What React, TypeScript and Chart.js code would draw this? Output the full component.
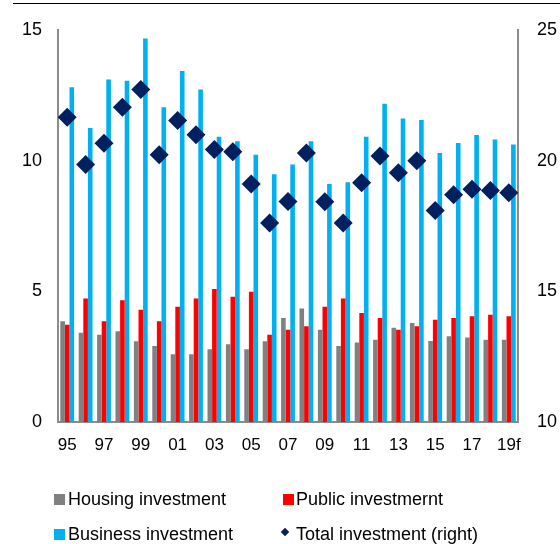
import React, { useEffect, useRef } from "react";
import { Chart, registerables } from "chart.js";

Chart.register(...registerables);

const categories = ["95","96","97","98","99","00","01","02","03","04","05","06","07","08","09","10","11","12","13","14","15","16","17","18","19f"];
const housing = [3.85,3.41,3.34,3.47,3.09,2.91,2.59,2.59,2.78,2.97,2.78,3.09,3.98,4.34,3.53,2.91,3.04,3.15,3.6,3.79,3.1,3.28,3.23,3.15,3.15];
const publicInv = [3.72,4.72,3.85,4.66,4.29,3.85,4.41,4.72,5.09,4.79,4.98,3.34,3.53,3.66,4.41,4.72,4.17,3.98,3.53,3.66,3.91,3.98,4.04,4.1,4.04];
const business = [12.8,11.24,13.1,13.05,14.67,12.04,13.42,12.72,10.91,10.74,10.22,9.48,9.85,10.74,9.1,9.17,10.91,12.17,11.61,11.55,10.29,10.67,10.98,10.8,10.61];
const total = [21.66,19.85,20.66,22.04,22.72,20.22,21.53,20.99,20.42,20.34,19.1,17.61,18.43,20.29,18.42,17.61,19.15,20.17,19.53,19.99,18.09,18.69,18.9,18.85,18.77];

const FONT = "'Liberation Sans', Arial, sans-serif";
const GREY = "#808080";
const RED = "#ff0000";
const BLUE = "#00b0f0";
const NAVY = "#002060";
const AXIS = "#8c8c8c";

export default function App() {
  const ref = useRef<HTMLCanvasElement | null>(null);
  useEffect(() => {
    if (!ref.current) return;
    const chart = new Chart(ref.current, {
      type: "bar",
      data: {
        labels: categories,
        datasets: [
          { type: "line", label: "Total investment (right)", data: total, yAxisID: "y1", showLine: false, pointStyle: "rectRot", pointRadius: 9.5, pointBackgroundColor: NAVY, pointBorderColor: NAVY, pointBorderWidth: 0, order: 0 } as any,
          { label: "Housing investment", data: housing, backgroundColor: GREY, yAxisID: "y", order: 1 },
          { label: "Public investmernt", data: publicInv, backgroundColor: RED, yAxisID: "y", order: 1 },
          { label: "Business investment", data: business, backgroundColor: BLUE, yAxisID: "y", order: 1 },
        ],
      },
      options: {
        animation: false,
        responsive: false,
        maintainAspectRatio: false,
        layout: { padding: { top: 27, left: 0, right: 0, bottom: 0 } },
        datasets: { bar: { categoryPercentage: 0.75, barPercentage: 1 } } as any,
        plugins: { legend: { display: false }, tooltip: { enabled: false } },
        scales: {
          x: {
            grid: { display: false, drawTicks: false },
            border: { display: true, color: AXIS, width: 2 },
            ticks: {
              autoSkip: false, maxRotation: 0, padding: 13, color: "#000",
              font: { family: FONT, size: 17 },
              callback: (_v: any, i: number) => (i % 2 === 0 ? categories[i] : ""),
            },
            afterFit: (s: any) => { s.height = 122; },
          },
          y: {
            position: "left", min: 0, max: 15,
            grid: { display: false, drawTicks: false },
            border: { display: true, color: AXIS, width: 2 },
            ticks: { stepSize: 5, padding: 16, color: "#000", font: { family: FONT, size: 18 } },
            afterFit: (s: any) => { s.width = 58; },
          },
          y1: {
            position: "right", min: 10, max: 25,
            grid: { display: false, drawTicks: false },
            border: { display: true, color: AXIS, width: 2 },
            ticks: { stepSize: 5, padding: 19, color: "#000", font: { family: FONT, size: 18 } },
            afterFit: (s: any) => { s.width = 42; },
          },
        },
      },
    });
    return () => chart.destroy();
  }, []);

  const legendText: React.CSSProperties = { position: "absolute", fontFamily: FONT, fontSize: 18, color: "#000", lineHeight: "20px", whiteSpace: "nowrap" };
  const sq = (x: number, y: number, c: string): React.CSSProperties => ({ position: "absolute", left: x, top: y, width: 11, height: 11, background: c });

  return (
    <div style={{ position: "fixed", left: 0, top: 0, width: 560, height: 544, background: "#fff" }}>
      <div style={{ position: "absolute", left: 13, top: 3, width: 547, height: 1, background: "#000" }} />
      <canvas ref={ref} width={560} height={544} style={{ position: "absolute", left: 0, top: 0 }} />
      <div style={sq(54, 494, GREY)} />
      <div style={{ ...legendText, left: 68, top: 489 }}>Housing investment</div>
      <div style={sq(283, 494, RED)} />
      <div style={{ ...legendText, left: 296, top: 489 }}>Public investmernt</div>
      <div style={sq(54, 529, BLUE)} />
      <div style={{ ...legendText, left: 68, top: 524 }}>Business investment</div>
      <div style={{ position: "absolute", left: 282, top: 529, width: 6, height: 6, background: NAVY, transform: "rotate(45deg)" }} />
      <div style={{ ...legendText, left: 296, top: 524 }}>Total investment (right)</div>
    </div>
  );
}
